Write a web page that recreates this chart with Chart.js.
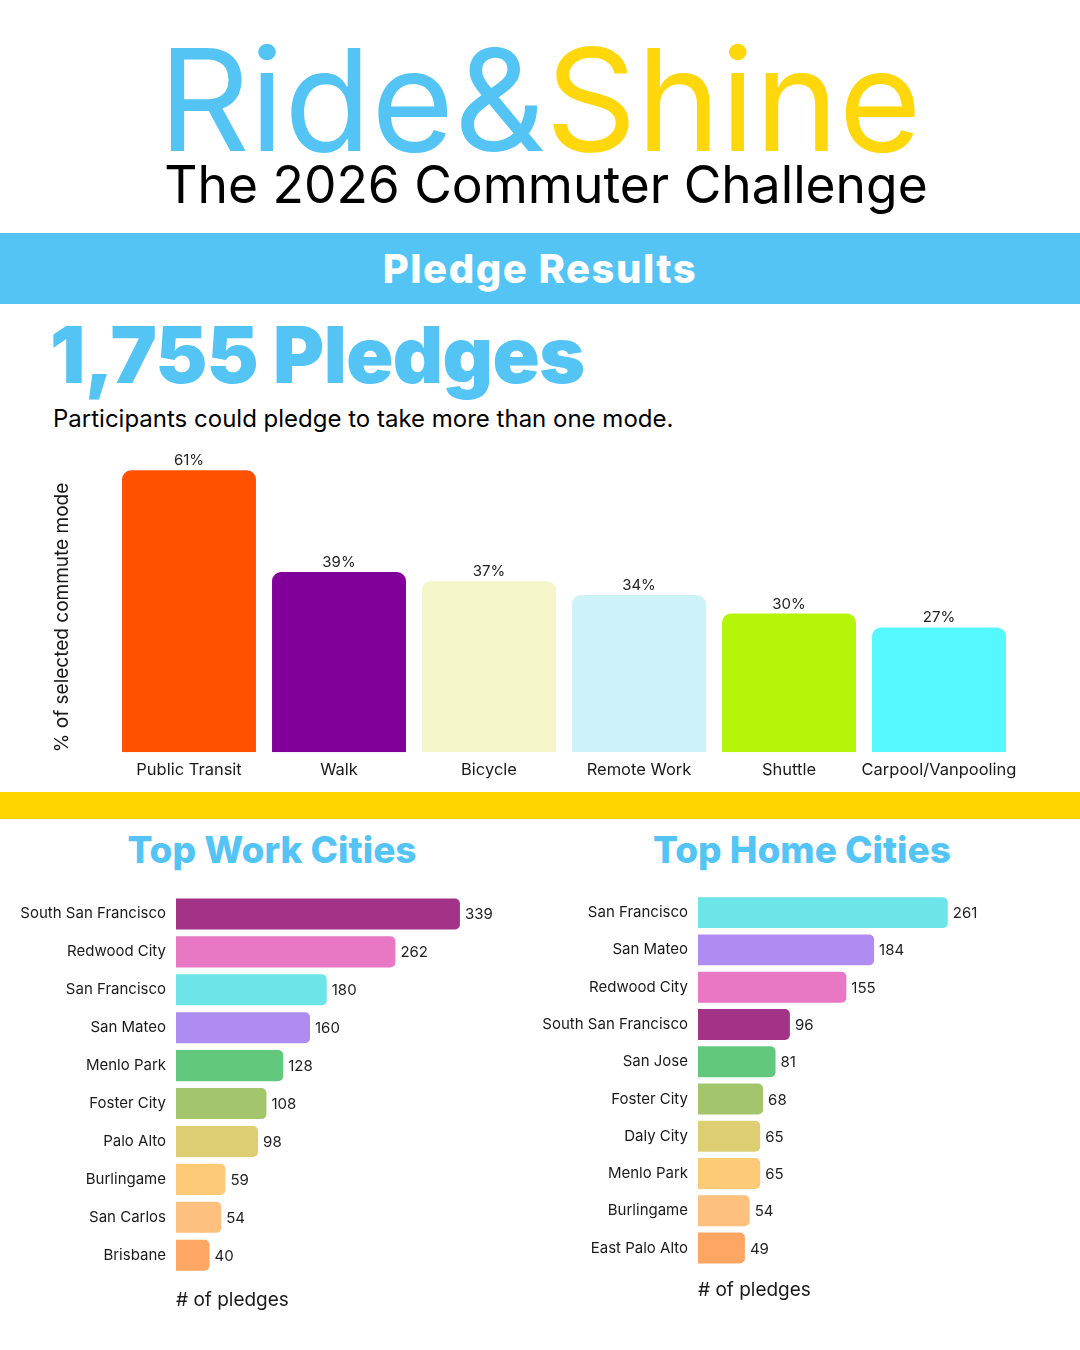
<!DOCTYPE html>
<html>
<head>
<meta charset="utf-8">
<script src="https://cdn.jsdelivr.net/npm/chart.js@4.4.1/dist/chart.umd.min.js"></script>
<style>
  html, body { margin: 0; padding: 0; background: #fff; }
  body { width: 1080px; height: 1350px; position: relative; overflow: hidden; font-family: Inter, "Open Sans", sans-serif; color: #111; }
  .abs { position: absolute; white-space: nowrap; }
  #brand { left: 0; width: 1080px; top: 29px; text-align: center; font-size: 142px; line-height: 140px; font-weight: 400; letter-spacing: 0; }
  #brand .a { color: #54c4f5; }
  #brand .b { color: #ffd70a; }
  #sub { left: 6px; width: 1080px; top: 159px; text-align: center; font-size: 51.5px; line-height: 51px; color: #000; }
  #band { left: 0; top: 233px; width: 1080px; height: 71px; background: #54c4f5; color: #fff; text-align: center; font-weight: 800; font-size: 40px; letter-spacing: 1.5px; line-height: 71px; }
  #total { left: 50px; top: 316px; font-size: 78px; line-height: 78px; font-weight: 900; color: #54c4f5; letter-spacing: -0.6px; }
  #note { left: 53px; top: 405px; font-size: 24px; line-height: 28px; color: #000; }
  #yband { left: 0; top: 792px; width: 1080px; height: 27px; background: #ffd600; }
  .city-title { top: 828px; font-size: 37px; line-height: 44px; font-weight: 800; color: #54c4f5; text-align: center; width: 400px; }
  #workTitle { left: 72px; }
  #homeTitle { left: 602px; }
  canvas { position: absolute; }
</style>
</head>
<body>
<div id="brand" class="abs"><span class="a">Ride&amp;</span><span class="b">Shine</span></div>
<div id="sub" class="abs">The 2026 Commuter Challenge</div>
<div id="band" class="abs">Pledge Results</div>
<div id="total" class="abs">1,755 Pledges</div>
<div id="note" class="abs">Participants could pledge to take more than one mode.</div>
<div id="yband" class="abs"></div>
<div id="workTitle" class="abs city-title">Top Work Cities</div>
<div id="homeTitle" class="abs city-title">Top Home Cities</div>

<div style="position:absolute;left:0;top:430px;width:1080px;height:360px;"><canvas id="modeChart"></canvas></div>
<div style="position:absolute;left:0;top:880px;width:540px;height:440px;"><canvas id="workChart"></canvas></div>
<div style="position:absolute;left:540px;top:880px;width:540px;height:440px;"><canvas id="homeChart"></canvas></div>

<script>
const modeLabels = ["Public Transit", "Walk", "Bicycle", "Remote Work", "Shuttle", "Carpool/Vanpooling"];
const modeValues = [61, 39, 37, 34, 30, 27];
const modeColors = ["#ff5200", "#82009a", "#f4f6ca", "#cdf2f7", "#b4f50a", "#55f8ff"];

const workCities = ["South San Francisco", "Redwood City", "San Francisco", "San Mateo", "Menlo Park", "Foster City", "Palo Alto", "Burlingame", "San Carlos", "Brisbane"];
const workValues = [339, 262, 180, 160, 128, 108, 98, 59, 54, 40];
const workColors = ["#a33386", "#e878c4", "#6de5e8", "#ae8cf2", "#62c87d", "#a3c56b", "#ddce74", "#fdcb78", "#fdc07f", "#fea764"];

const homeCities = ["San Francisco", "San Mateo", "Redwood City", "South San Francisco", "San Jose", "Foster City", "Daly City", "Menlo Park", "Burlingame", "East Palo Alto"];
const homeValues = [261, 184, 155, 96, 81, 68, 65, 65, 54, 49];
const homeColors = ["#6de5e8", "#ae8cf2", "#e878c4", "#a33386", "#62c87d", "#a3c56b", "#ddce74", "#fdcb78", "#fdc07f", "#fea764"];

const FONT = "Inter, 'Open Sans', sans-serif";

// draws the value next to each bar (above for vertical, right for horizontal)
const valueLabels = {
  id: 'valueLabels',
  afterDatasetsDraw(chart, args, opts) {
    const ctx = chart.ctx;
    const ds = chart.data.datasets[0];
    const meta = chart.getDatasetMeta(0);
    ctx.save();
    ctx.fillStyle = '#222';
    ctx.font = (opts.size || 15) + 'px ' + FONT;
    meta.data.forEach((bar, i) => {
      const txt = ds.data[i] + (opts.suffix || '');
      if (chart.options.indexAxis === 'y') {
        ctx.textAlign = 'left';
        ctx.textBaseline = 'middle';
        ctx.fillText(txt, bar.x + 5, bar.y + 1);
      } else {
        ctx.textAlign = 'center';
        ctx.textBaseline = 'bottom';
        ctx.fillText(txt, bar.x, bar.y - 2);
      }
    });
    ctx.restore();
  }
};

new Chart(document.getElementById('modeChart'), {
  type: 'bar',
  data: {
    labels: modeLabels,
    datasets: [{
      data: modeValues,
      backgroundColor: modeColors,
      borderRadius: { topLeft: 9, topRight: 9 },
      borderSkipped: 'bottom',
      categoryPercentage: 1,
      barPercentage: 0.893
    }]
  },
  options: {
    animation: false,
    responsive: true,
    maintainAspectRatio: false,
    layout: { padding: { left: 0, right: 66, top: 8, bottom: 2 } },
    plugins: { legend: { display: false }, tooltip: { enabled: false }, valueLabels: { suffix: '%', size: 15 } },
    scales: {
      x: {
        grid: { display: false, drawTicks: false },
        border: { display: false },
        ticks: { color: '#1a1a1a', padding: 8, maxRotation: 0, minRotation: 0, autoSkip: false, font: { family: FONT, size: 16.5 } }
      },
      y: {
        min: 0,
        max: 68,
        grid: { display: false, drawTicks: false },
        border: { display: false },
        ticks: { display: false },
        title: { display: true, text: '% of selected commute mode', align: 'start', color: '#1a1a1a', font: { family: FONT, size: 19 }, padding: { top: 51, bottom: 0 } },
        afterFit(scale) { scale.width = 114; }
      }
    }
  },
  plugins: [valueLabels]
});

function cityChart(id, labels, values, colors, opt) {
  return new Chart(document.getElementById(id), {
    type: 'bar',
    data: {
      labels: labels,
      datasets: [{
        data: values,
        backgroundColor: colors,
        borderRadius: { topRight: 5, bottomRight: 5 },
        borderSkipped: 'left',
        categoryPercentage: 1,
        barPercentage: opt.barPct
      }]
    },
    options: {
      indexAxis: 'y',
      animation: false,
      responsive: true,
      maintainAspectRatio: false,
      layout: { padding: opt.padding },
      plugins: { legend: { display: false }, tooltip: { enabled: false }, valueLabels: { size: 15 } },
      scales: {
        x: {
          min: 0,
          max: opt.max,
          grid: { display: false, drawTicks: false },
          border: { display: false },
          ticks: { display: false },
          title: { display: true, text: '# of pledges', align: 'start', color: '#1a1a1a', font: { family: FONT, size: 19 }, padding: { top: opt.titlePad, bottom: 0 } }
        },
        y: {
          grid: { display: false, drawTicks: false },
          border: { display: false },
          ticks: { color: '#1a1a1a', padding: 10, font: { family: FONT, size: 15 } },
          afterFit(scale) {
            scale.width = opt.axisWidth;
            // labels sit inside the category bands, no extra room needed
            scale.paddingTop = 0;
            scale.paddingBottom = 0;
          }
        }
      }
    },
    plugins: [valueLabels]
  });
}

cityChart('workChart', workCities, workValues, workColors, {
  max: 400, barPct: 0.82, axisWidth: 176, titlePad: 15,
  padding: { left: 0, right: 29, top: 15, bottom: 8 }
});
cityChart('homeChart', homeCities, homeValues, homeColors, {
  max: 350, barPct: 0.83, axisWidth: 158, titlePad: 12,
  padding: { left: 0, right: 47, top: 14, bottom: 18.5 }
});
</script>
</body>
</html>
